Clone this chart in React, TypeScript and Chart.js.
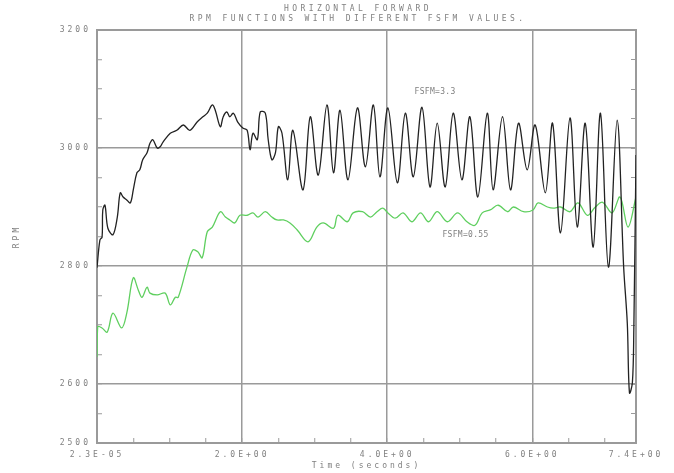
import { useEffect, useRef } from "react";
import { Chart, registerables } from "chart.js";

Chart.register(...registerables);

// ---- Data (time in seconds, RPM) ----
const blackTime = [
  0, 0.04, 0.07, 0.08, 0.11, 0.15, 0.22, 0.28, 0.32, 0.36, 0.41, 0.46, 0.5, 0.55, 0.59, 0.63, 0.69, 0.73, 0.77, 0.83,
  0.87, 0.91, 1.01, 1.1, 1.19, 1.28, 1.38, 1.46, 1.52, 1.59, 1.63, 1.7, 1.74, 1.79, 1.83, 1.88, 1.94, 2.01, 2.07, 2.11,
  2.15, 2.21, 2.25, 2.32, 2.36, 2.41, 2.46, 2.5, 2.55, 2.63, 2.7, 2.84, 2.94, 3.05, 3.17, 3.26, 3.35, 3.46, 3.59, 3.7,
  3.81, 3.9, 4.01, 4.14, 4.25, 4.36, 4.48, 4.59, 4.69, 4.8, 4.91, 5.03, 5.14, 5.25, 5.38, 5.46, 5.59, 5.7, 5.81, 5.93,
  6.04, 6.18, 6.28, 6.39, 6.52, 6.62, 6.73, 6.84, 6.94, 7.05, 7.17, 7.26, 7.31, 7.34, 7.38, 7.4, 7.43,
];
const blackRpm = [
  2797, 2844, 2849, 2895, 2903, 2864, 2853, 2883, 2924, 2917, 2912, 2907, 2929, 2958, 2963, 2980, 2992, 3008, 3014, 3000,
  3002, 3010, 3025, 3030, 3039, 3030, 3044, 3053, 3059, 3073, 3064, 3036, 3053, 3061, 3053, 3059, 3044, 3034, 3030, 2997,
  3025, 3014, 3061, 3059, 3014, 2980, 2992, 3036, 3025, 2946, 3030, 2929, 3053, 2954, 3073, 2958, 3064, 2946, 3068, 2968,
  3073, 2951, 3068, 2941, 3059, 2951, 3069, 2934, 3042, 2934, 3059, 2946, 3053, 2917, 3059, 2929, 3053, 2929, 3042, 2963,
  3039, 2924, 3042, 2856, 3051, 2866, 3042, 2832, 3059, 2798, 3047, 2798, 2703, 2585, 2602, 2692, 2988,
];

const greenTime = [
  0, 0.01, 0.07, 0.14, 0.22, 0.34, 0.41, 0.5, 0.57, 0.62, 0.69, 0.73, 0.83, 0.94, 1.01, 1.08, 1.12, 1.24, 1.32, 1.39,
  1.45, 1.52, 1.59, 1.7, 1.77, 1.83, 1.9, 1.97, 2.07, 2.15, 2.22, 2.32, 2.41, 2.48, 2.57, 2.66, 2.76, 2.91, 3.03, 3.12,
  3.26, 3.32, 3.45, 3.53, 3.66, 3.77, 3.86, 3.94, 4.01, 4.11, 4.22, 4.34, 4.46, 4.57, 4.69, 4.83, 4.97, 5.1, 5.21, 5.31,
  5.42, 5.53, 5.66, 5.74, 5.88, 6.01, 6.08, 6.21, 6.29, 6.39, 6.52, 6.63, 6.76, 6.87, 6.97, 7.1, 7.21, 7.32, 7.43,
];
const greenRpm = [
  2646, 2697, 2695, 2688, 2720, 2695, 2720, 2780, 2759, 2747, 2764, 2754, 2751, 2754, 2734, 2747, 2747, 2798, 2827, 2824,
  2814, 2858, 2866, 2892, 2883, 2878, 2873, 2886, 2886, 2890, 2883, 2892, 2883, 2878, 2878, 2873, 2861, 2841, 2866, 2873,
  2864, 2886, 2875, 2890, 2892, 2883, 2892, 2898, 2890, 2881, 2890, 2875, 2890, 2875, 2892, 2875, 2890, 2875, 2869, 2890,
  2895, 2903, 2892, 2900, 2892, 2895, 2907, 2900, 2898, 2900, 2892, 2907, 2886, 2900, 2908, 2890, 2917, 2866, 2917,
];

// ---- Axes ----
const xMin = 0;
const xMax = 7.43;
const xTicks = [0, 0.5, 1, 1.5, 2, 2.5, 3, 3.5, 4, 4.5, 5, 5.5, 6, 6.5, 7, 7.43];
const xLabelValues = [0, 2, 4, 6, 7.43];
const xLabelTexts = ["2.3E-05", "2.0E+00", "4.0E+00", "6.0E+00", "7.4E+00"];
const xGridValues = [2, 4, 6];

const yMin = 2500;
const yMax = 3200;
const yTicks = [2500, 2550, 2600, 2650, 2700, 2750, 2800, 2850, 2900, 2950, 3000, 3050, 3100, 3150, 3200];
const yLabelValues = [2500, 2600, 2800, 3000, 3200];
const yGridValues = [2600, 2800, 3000];

const titleText = "HORIZONTAL FORWARD";
const subtitleText = "RPM FUNCTIONS WITH DIFFERENT FSFM VALUES.";
const xTitle = "Time (seconds)";
const yTitle = "RPM";
const annotations = [
  { text: "FSFM=3.3", t: 4.66, rpm: 3095 },
  { text: "FSFM=0.55", t: 5.08, rpm: 2853 },
];

const GRAY = "#9a9a9a";
const TEXT = "#808080";
const FONT = "DejaVu Sans Mono";

const near = (a: number, b: number) => Math.abs(a - b) < 1e-6;

const textPlugin = {
  id: "customTexts",
  beforeDraw(chart: any) {
    (chart.ctx as any).letterSpacing = "3px";
  },
  afterDraw(chart: any) {
    const ctx = chart.ctx as any;
    ctx.save();
    ctx.fillStyle = TEXT;
    ctx.textAlign = "center";
    ctx.textBaseline = "middle";
    ctx.font = `8px "${FONT}"`;
    ctx.letterSpacing = "3.4px";
    ctx.fillText(titleText, 358, 9);
    ctx.fillText(subtitleText, 358, 19);
    ctx.letterSpacing = "0.3px";
    ctx.font = `8px "${FONT}"`;
    for (const a of annotations) {
      const x = chart.scales.x.getPixelForValue(a.t);
      const y = chart.scales.y.getPixelForValue(a.rpm);
      ctx.fillText(a.text, x, y);
    }
    ctx.restore();
  },
};

export default function App() {
  const ref = useRef<HTMLCanvasElement | null>(null);

  useEffect(() => {
    if (!ref.current) return;
    const chart = new Chart(ref.current, {
      type: "line",
      data: {
        datasets: [
          {
            label: "FSFM=3.3",
            data: blackTime.map((t, i) => ({ x: t, y: blackRpm[i] })),
            borderColor: "#222222",
            borderWidth: 1.3,
            pointRadius: 0,
            tension: 0.35,
            fill: false,
          },
          {
            label: "FSFM=0.55",
            data: greenTime.map((t, i) => ({ x: t, y: greenRpm[i] })),
            borderColor: "#5fcf5f",
            borderWidth: 1.3,
            pointRadius: 0,
            tension: 0.35,
            fill: false,
          },
        ],
      },
      options: {
        animation: false,
        responsive: false,
        devicePixelRatio: 1,
        layout: { padding: { top: 30, right: 0, bottom: 0, left: 0 } },
        plugins: {
          legend: { display: false },
          tooltip: { enabled: false },
          title: { display: false },
        },
        scales: {
          x: {
            type: "linear",
            position: "bottom",
            min: xMin,
            max: xMax,
            afterBuildTicks: (s: any) => {
              s.ticks = xTicks.map((v) => ({ value: v }));
            },
            afterFit: (s: any) => {
              s.height = 30;
            },
            ticks: {
              autoSkip: false,
              maxRotation: 0,
              padding: 12,
              color: TEXT,
              font: { family: FONT, size: 8 },
              callback: (v: any) => {
                const i = xLabelValues.findIndex((x) => near(x, Number(v)));
                return i >= 0 ? xLabelTexts[i] : "";
              },
            },
            grid: {
              color: (c: any) => (c.tick && xGridValues.some((g) => near(g, c.tick.value)) ? GRAY : "rgba(0,0,0,0)"),
              lineWidth: 1.5,
              tickColor: GRAY,
              tickLength: -5,
              tickWidth: 1,
            },
            border: { display: true, color: GRAY, width: 2 },
            title: {
              display: true,
              text: xTitle,
              color: TEXT,
              font: { family: FONT, size: 8 },
              padding: { top: 0, bottom: 2 },
            },
          },
          xTop: {
            type: "linear",
            position: "top",
            min: xMin,
            max: xMax,
            afterFit: (s: any) => {
              s.height = 0;
            },
            ticks: { display: false },
            grid: { display: false },
            border: { display: true, color: GRAY, width: 2 },
          },
          y: {
            type: "linear",
            position: "left",
            min: yMin,
            max: yMax,
            afterBuildTicks: (s: any) => {
              s.ticks = yTicks.map((v) => ({ value: v }));
            },
            afterFit: (s: any) => {
              s.width = 97;
            },
            ticks: {
              autoSkip: false,
              padding: 11,
              color: TEXT,
              font: { family: FONT, size: 8 },
              callback: (v: any) => (yLabelValues.some((y) => near(y, Number(v))) ? String(v) : ""),
            },
            grid: {
              color: (c: any) => (c.tick && yGridValues.some((g) => near(g, c.tick.value)) ? GRAY : "rgba(0,0,0,0)"),
              lineWidth: 1.5,
              tickColor: GRAY,
              tickLength: -5,
              tickWidth: 1,
            },
            border: { display: true, color: GRAY, width: 2 },
            title: {
              display: true,
              text: yTitle,
              color: TEXT,
              font: { family: FONT, size: 8 },
              padding: { top: 12, bottom: 0 },
            },
          },
          yRight: {
            type: "linear",
            position: "right",
            min: yMin,
            max: yMax,
            afterBuildTicks: (s: any) => {
              s.ticks = yTicks.map((v) => ({ value: v }));
            },
            afterFit: (s: any) => {
              s.width = 38;
            },
            ticks: { display: false },
            grid: {
              drawOnChartArea: false,
              tickColor: GRAY,
              tickLength: -5,
              tickWidth: 1,
            },
            border: { display: true, color: GRAY, width: 2 },
          },
        },
      } as any,
      plugins: [textPlugin],
    });
    return () => chart.destroy();
  }, []);

  return (
    <div style={{ position: "absolute", left: 0, top: 0, width: 674, height: 473, background: "#fff" }}>
      <canvas ref={ref} width={674} height={473} />
    </div>
  );
}
